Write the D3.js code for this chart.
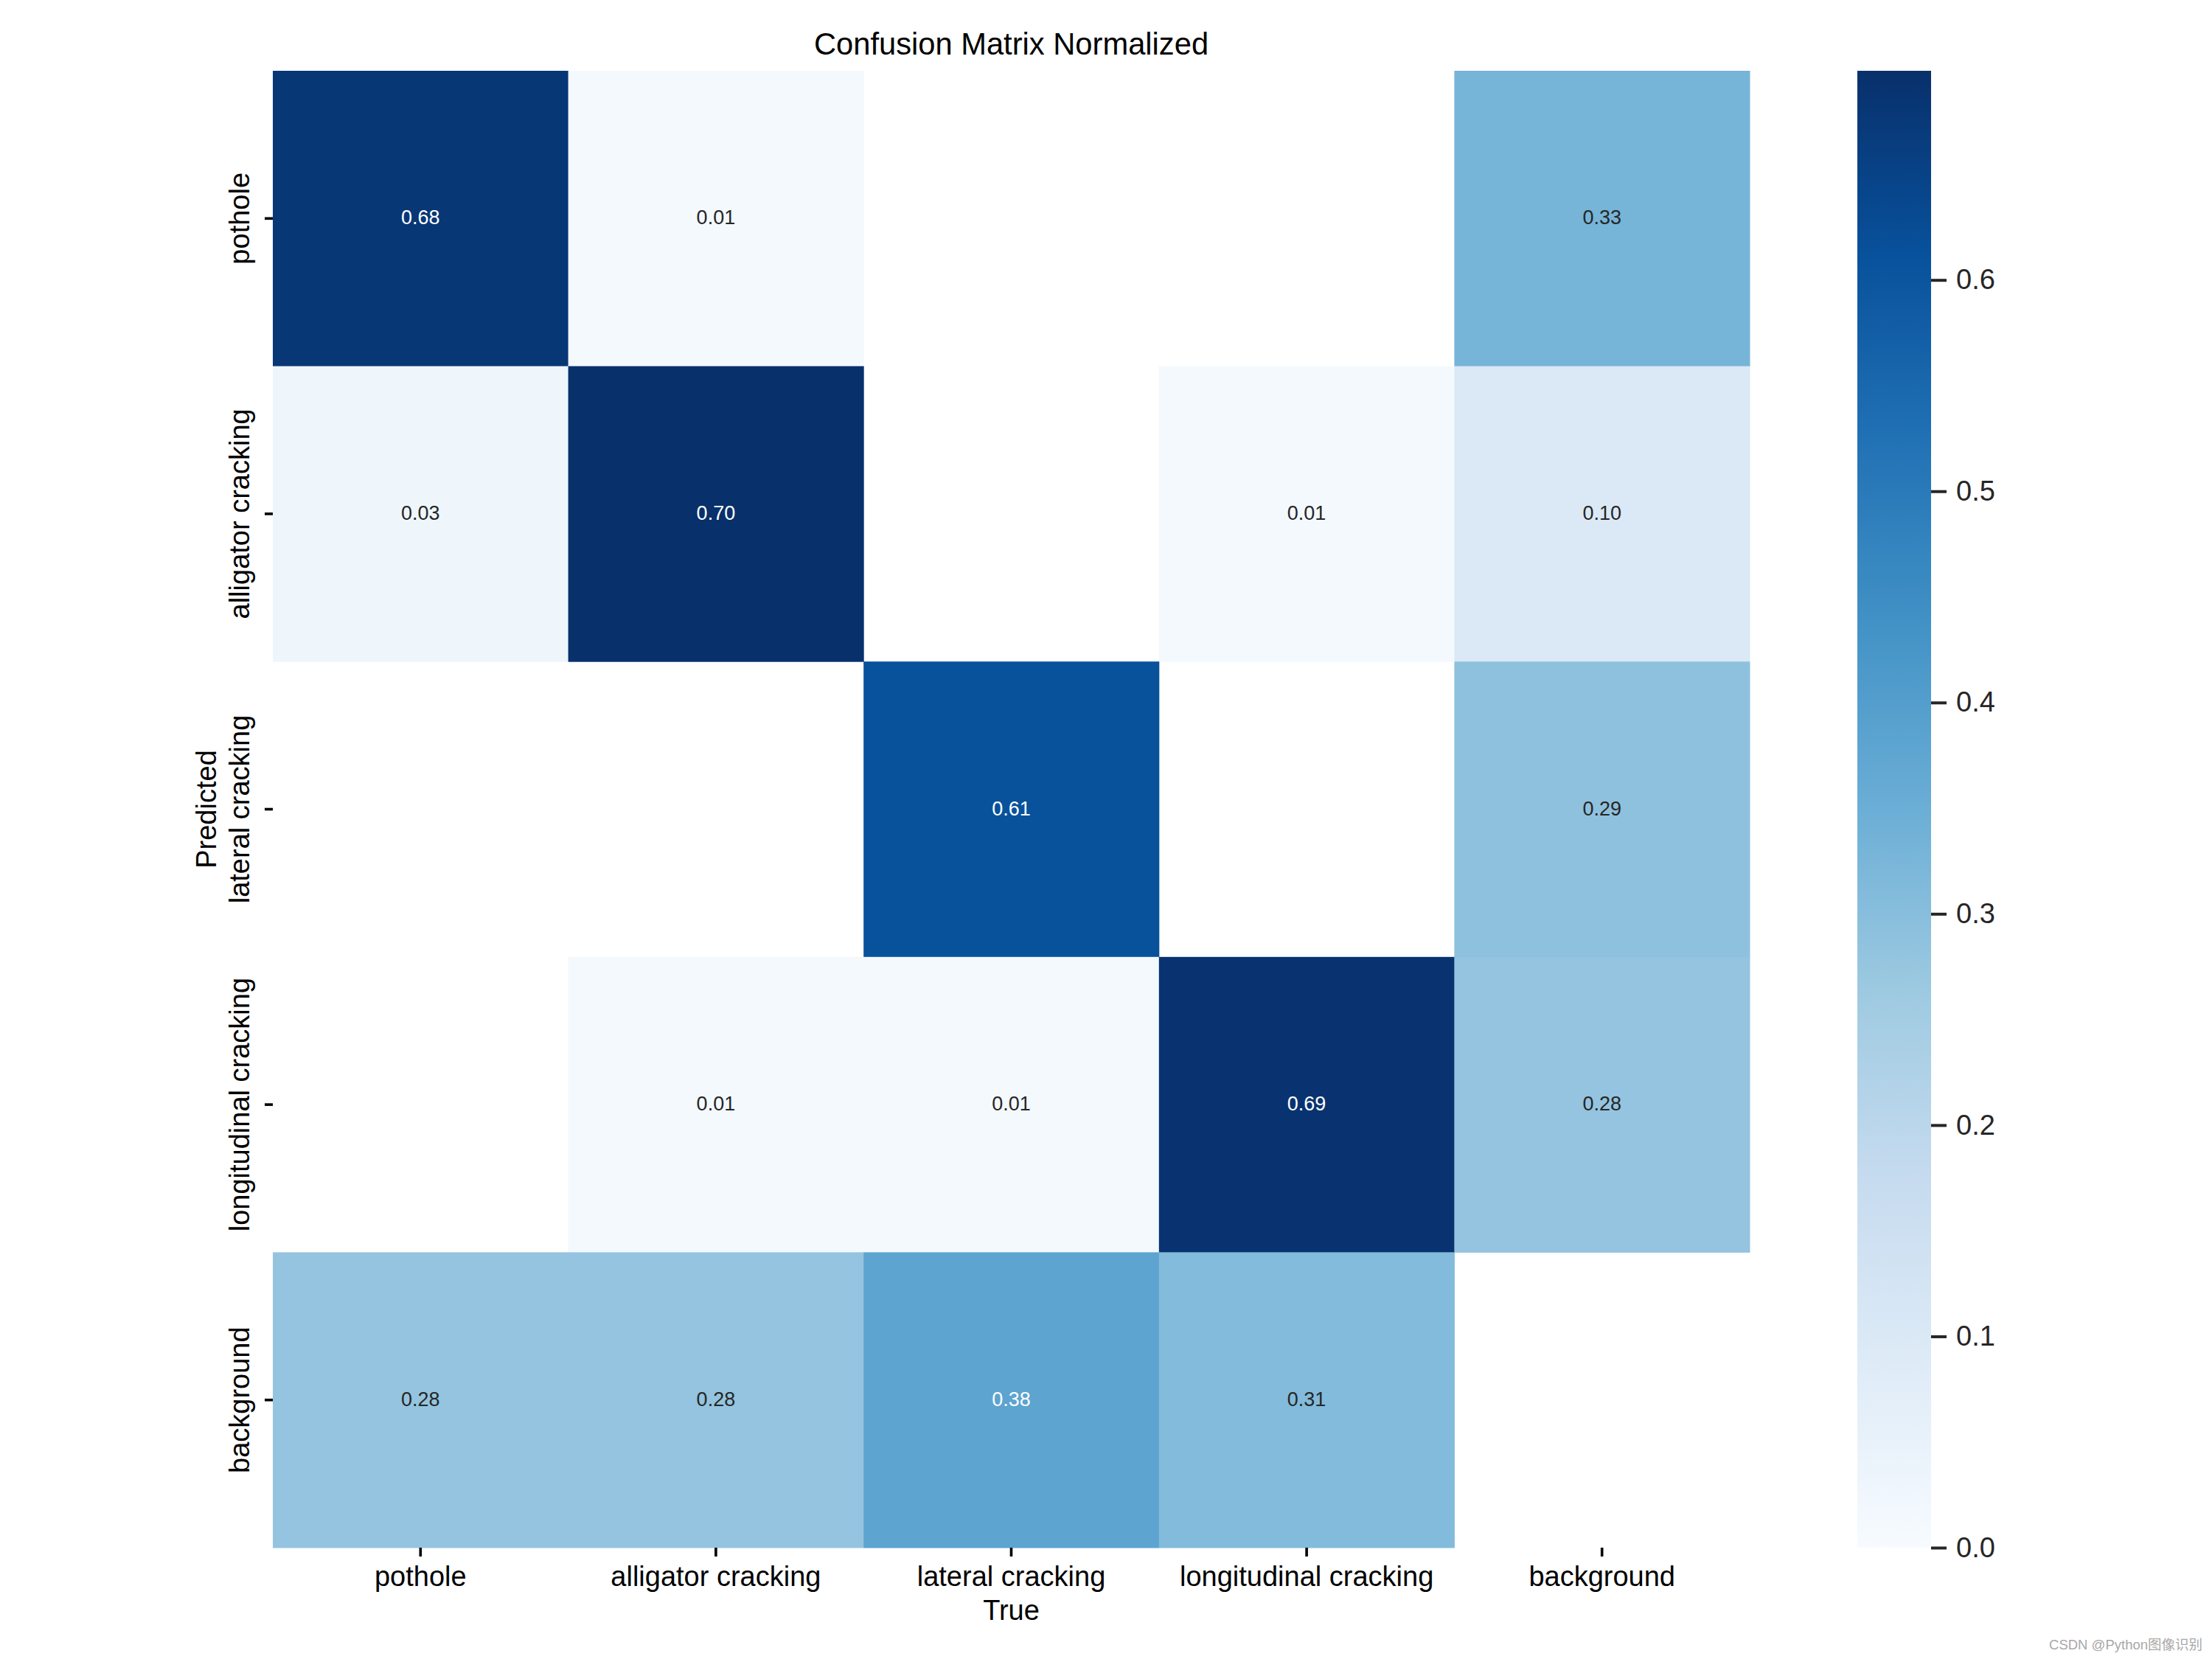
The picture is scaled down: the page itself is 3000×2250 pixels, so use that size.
<!DOCTYPE html>
<html>
<head>
<meta charset="utf-8">
<script src="https://cdn.jsdelivr.net/npm/d3@7"></script>
<style>
  html, body { margin: 0; padding: 0; background: #fff; }
  svg { display: block; font-family: "Liberation Sans", Arial, sans-serif; }
</style>
</head>
<body>
<svg id="chart" width="3000" height="2250"></svg>
<script>
// ---- data ----
const trueLabels = ["pothole", "alligator cracking", "lateral cracking", "longitudinal cracking", "background"];
const predictedLabels = ["pothole", "alligator cracking", "lateral cracking", "longitudinal cracking", "background"];
// rows = predicted, columns = true; null = not shown (< 0.005)
const rowPothole      = [0.68, 0.01, null, null, 0.33];
const rowAlligator    = [0.03, 0.699, null, 0.01, 0.10];
const rowLateral      = [null, null, 0.61, null, 0.29];
const rowLongitudinal = [null, 0.01, 0.01, 0.69, 0.28];
const rowBackground   = [0.28, 0.28, 0.38, 0.31, null];
const matrixRows = [rowPothole, rowAlligator, rowLateral, rowLongitudinal, rowBackground];
const colorbarTicks = [0.0, 0.1, 0.2, 0.3, 0.4, 0.5, 0.6];
const bluesStops = ["#f7fbff", "#deebf7", "#c6dbef", "#9ecae1", "#6baed6", "#4292c6", "#2171b5", "#08519c", "#08306b"];
const titleText = "Confusion Matrix Normalized";
const xAxisTitle = "True";
const yAxisTitle = "Predicted";
const watermark = "CSDN @Python图像识别";

// ---- layout ----
const svg = d3.select("#chart");
const hm = { left: 370, right: 2373, top: 96, bottom: 2099 };
const cb = { left: 2519, right: 2619 };

const cells = [];
matrixRows.forEach((row, i) => row.forEach((v, j) => {
  if (v !== null) cells.push({ pred: predictedLabels[i], tru: trueLabels[j], v });
}));
const vmax = d3.max(cells, d => d.v);

const x = d3.scaleBand().domain(trueLabels).range([hm.left, hm.right]).padding(0);
const y = d3.scaleBand().domain(predictedLabels).range([hm.top, hm.bottom]).padding(0);

// matplotlib-like Blues: linear between 9 stops
const blues = d3.scaleLinear()
  .domain(bluesStops.map((_, i) => i / (bluesStops.length - 1)))
  .range(bluesStops)
  .interpolate(d3.interpolateRgb)
  .clamp(true);
const color = v => blues(v / vmax);

function relLum(c) {
  const rgb = d3.rgb(c);
  const f = u => { u /= 255; return u <= 0.03928 ? u / 12.92 : Math.pow((u + 0.055) / 1.055, 2.4); };
  return 0.2126 * f(rgb.r) + 0.7152 * f(rgb.g) + 0.0722 * f(rgb.b);
}

// cells
svg.append("g").selectAll("rect").data(cells).join("rect")
  .attr("x", d => x(d.tru))
  .attr("y", d => y(d.pred))
  .attr("width", x.bandwidth() + 0.5)
  .attr("height", y.bandwidth() + 0.5)
  .attr("fill", d => color(d.v));

// annotations
svg.append("g").selectAll("text").data(cells).join("text")
  .attr("x", d => x(d.tru) + x.bandwidth() / 2)
  .attr("y", d => y(d.pred) + y.bandwidth() / 2 + 8)
  .attr("text-anchor", "middle")
  .attr("font-size", 27)
  .attr("fill", d => relLum(color(d.v)) > 0.408 ? "#262626" : "#ffffff")
  .text(d => d.v.toFixed(2));

// x axis
const gx = svg.append("g")
  .attr("transform", `translate(0,${hm.bottom})`)
  .call(d3.axisBottom(x).tickSize(12).tickPadding(14));
gx.select(".domain").remove();
gx.selectAll(".tick line").attr("stroke", "#000").attr("stroke-width", 3.6);
gx.selectAll(".tick text")
  .attr("y", 52).attr("dy", null)
  .attr("font-size", 38).attr("fill", "#000");

// y axis
const gy = svg.append("g")
  .attr("transform", `translate(${hm.left},0)`)
  .call(d3.axisLeft(y).tickSize(11).tickPadding(14));
gy.select(".domain").remove();
gy.selectAll(".tick line").attr("stroke", "#000").attr("stroke-width", 3.6);
gy.selectAll(".tick text")
  .attr("x", 0).attr("dy", null)
  .attr("text-anchor", "middle")
  .attr("transform", "translate(-32,0) rotate(-90)")
  .attr("font-size", 38).attr("fill", "#000");

// titles
svg.append("text")
  .attr("x", (hm.left + hm.right) / 2).attr("y", 74)
  .attr("text-anchor", "middle").attr("font-size", 41.7).attr("fill", "#000")
  .text(titleText);
svg.append("text")
  .attr("x", (hm.left + hm.right) / 2).attr("y", 2197)
  .attr("text-anchor", "middle").attr("font-size", 38).attr("fill", "#000")
  .text(xAxisTitle);
svg.append("text")
  .attr("transform", `translate(293,${(hm.top + hm.bottom) / 2}) rotate(-90)`)
  .attr("text-anchor", "middle").attr("font-size", 38).attr("fill", "#000")
  .text(yAxisTitle);

// colorbar
const cbScale = d3.scaleLinear().domain([0, vmax]).range([hm.bottom, hm.top]);
const defs = svg.append("defs");
const grad = defs.append("linearGradient").attr("id", "cbgrad")
  .attr("x1", 0).attr("y1", 1).attr("x2", 0).attr("y2", 0);
grad.selectAll("stop").data(bluesStops).join("stop")
  .attr("offset", (_, i) => i / (bluesStops.length - 1))
  .attr("stop-color", d => d);
svg.append("rect")
  .attr("x", cb.left).attr("y", cbScale(vmax))
  .attr("width", cb.right - cb.left).attr("height", cbScale(0) - cbScale(vmax))
  .attr("fill", "url(#cbgrad)");
const gc = svg.append("g")
  .attr("transform", `translate(${cb.right},0)`)
  .call(d3.axisRight(cbScale).tickValues(colorbarTicks).tickFormat(d3.format(".1f")).tickSize(21).tickPadding(13));
gc.select(".domain").remove();
gc.selectAll(".tick line").attr("stroke", "#262626").attr("stroke-width", 4);
gc.selectAll(".tick text").attr("font-size", 38).attr("fill", "#262626");

// watermark
svg.append("text")
  .attr("x", 2987).attr("y", 2237)
  .attr("text-anchor", "end")
  .attr("font-family", "'Liberation Sans', 'Noto Sans CJK SC', sans-serif")
  .attr("font-size", 18.5).attr("fill", "#a8a8a8")
  .text(watermark);
</script>
</body>
</html>
